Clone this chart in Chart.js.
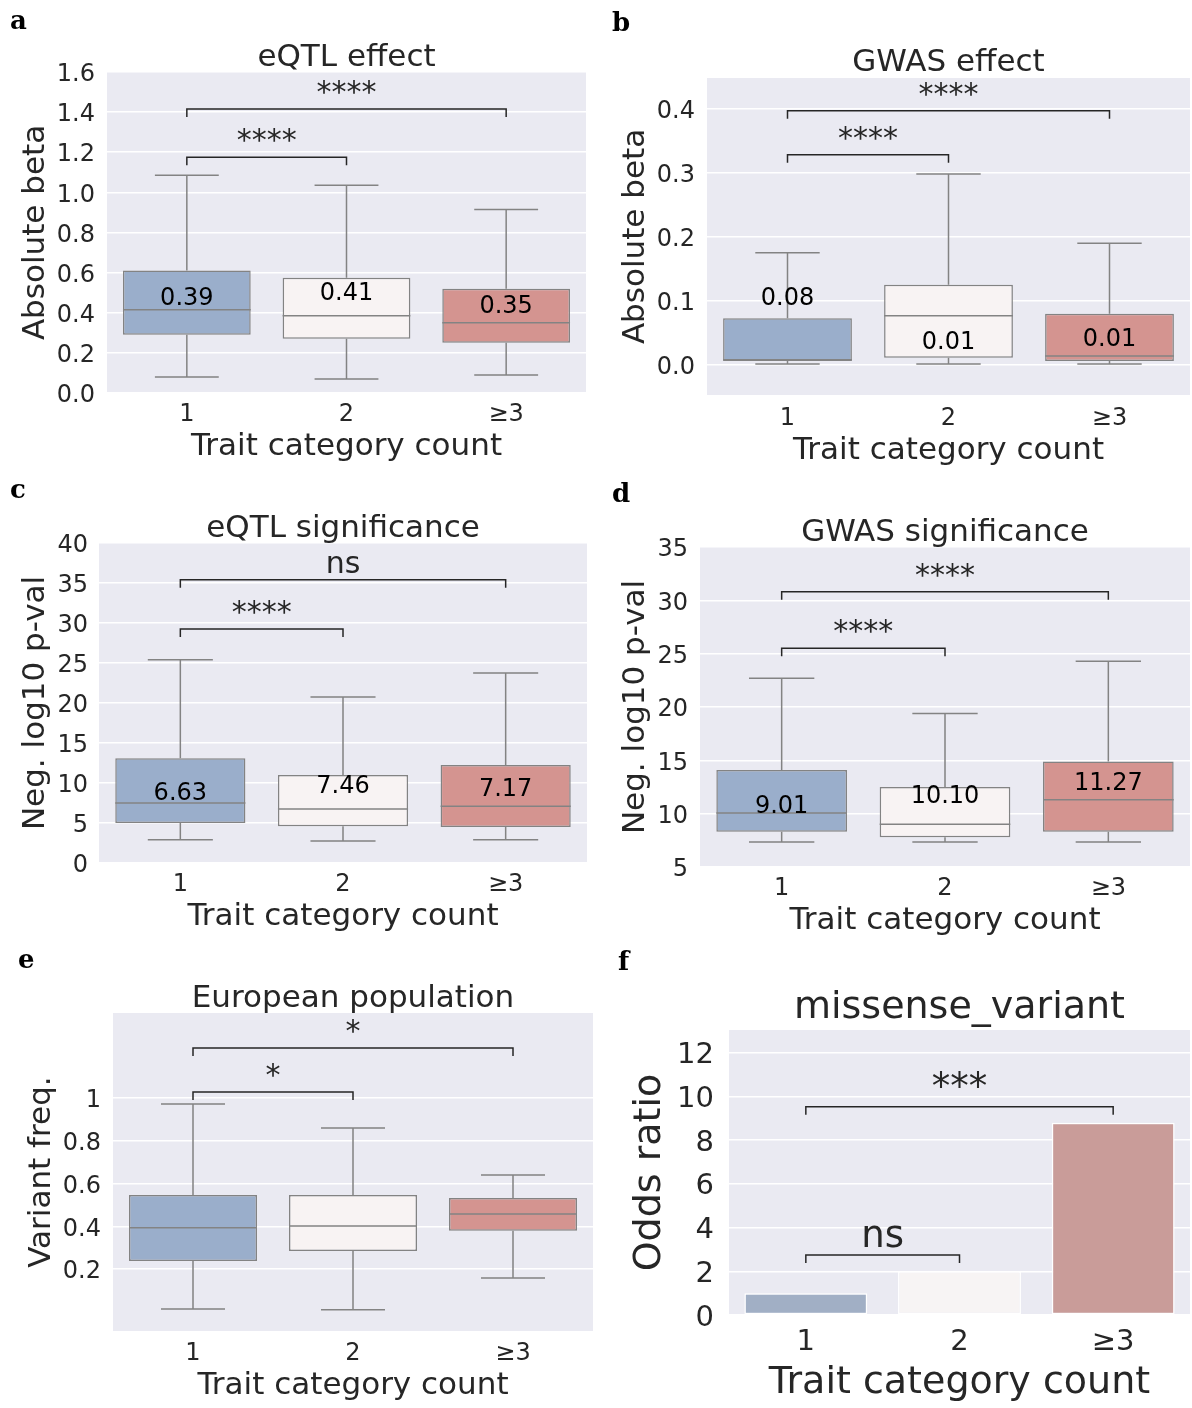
<!DOCTYPE html>
<html>
<head>
<meta charset="utf-8">
<script src="https://cdn.jsdelivr.net/npm/chart.js@4.4.1/dist/chart.umd.min.js"></script>
<style>
  body { margin: 0; background: #fff; }
  #fig { position: relative; width: 1192px; height: 1408px; }
  #fig canvas { position: absolute; }
</style>
</head>
<body>
<div id="fig">
  <canvas id="panelA"></canvas>
  <canvas id="panelB"></canvas>
  <canvas id="panelC"></canvas>
  <canvas id="panelD"></canvas>
  <canvas id="panelE"></canvas>
  <canvas id="panelF"></canvas>
</div>
<script>
const categories = ["1", "2", "≥3"];

// a - eQTL effect
const eqtlBetaLow = [0.08, 0.07, 0.09];
const eqtlBetaQ1 = [0.29, 0.27, 0.25];
const eqtlBetaMedian = [0.415, 0.385, 0.35];
const eqtlBetaQ3 = [0.61, 0.575, 0.52];
const eqtlBetaHigh = [1.085, 1.035, 0.915];
const eqtlBetaNotes = ["0.39", "0.41", "0.35"];
const eqtlBetaNoteAt = [0.485, 0.51, 0.445];
const eqtlBetaTicks = [0, 0.2, 0.4, 0.6, 0.8, 1.0, 1.2, 1.4, 1.6];
const eqtlBetaTickLabels = ["0.0", "0.2", "0.4", "0.6", "0.8", "1.0", "1.2", "1.4", "1.6"];
const eqtlBetaSigLevel = [1.175, 1.415];
const eqtlBetaSigText = ["****", "****"];

// b - GWAS effect
const gwasBetaLow = [0.0015, 0.0015, 0.0015];
const gwasBetaQ1 = [0.006, 0.011, 0.006];
const gwasBetaMedian = [0.008, 0.0766, 0.014];
const gwasBetaQ3 = [0.073, 0.125, 0.08];
const gwasBetaHigh = [0.175, 0.298, 0.19];
const gwasBetaNotes = ["0.08", "0.01", "0.01"];
const gwasBetaNoteAt = [0.108, 0.039, 0.044];
const gwasBetaTicks = [0, 0.1, 0.2, 0.3, 0.4];
const gwasBetaTickLabels = ["0.0", "0.1", "0.2", "0.3", "0.4"];
const gwasBetaSigLevel = [0.328, 0.397];
const gwasBetaSigText = ["****", "****"];

// c - eQTL significance
const eqtlPvalLow = [2.9, 2.75, 2.9];
const eqtlPvalQ1 = [5.0, 4.6, 4.5];
const eqtlPvalMedian = [7.5, 6.75, 7.1];
const eqtlPvalQ3 = [13.1, 11.0, 12.25];
const eqtlPvalHigh = [25.4, 20.75, 23.75];
const eqtlPvalNotes = ["6.63", "7.46", "7.17"];
const eqtlPvalNoteAt = [9.0, 9.9, 9.5];
const eqtlPvalTicks = [0, 5, 10, 15, 20, 25, 30, 35, 40];
const eqtlPvalTickLabels = ["0", "5", "10", "15", "20", "25", "30", "35", "40"];
const eqtlPvalSigLevel = [29.25, 35.4];
const eqtlPvalSigText = ["****", "ns"];

// d - GWAS significance
const gwasPvalLow = [7.35, 7.35, 7.35];
const gwasPvalQ1 = [8.3, 7.8, 8.3];
const gwasPvalMedian = [10.06, 9.0, 11.3];
const gwasPvalQ3 = [14.1, 12.5, 14.9];
const gwasPvalHigh = [22.7, 19.4, 24.3];
const gwasPvalNotes = ["9.01", "10.10", "11.27"];
const gwasPvalNoteAt = [10.9, 11.9, 13.1];
const gwasPvalTicks = [5, 10, 15, 20, 25, 30, 35];
const gwasPvalTickLabels = ["5", "10", "15", "20", "25", "30", "35"];
const gwasPvalSigLevel = [25.5, 30.8];
const gwasPvalSigText = ["****", "****"];

// e - European population
const eurFreqLow = [0.014, 0.01, 0.159];
const eurFreqQ1 = [0.238, 0.285, 0.379];
const eurFreqMedian = [0.393, 0.402, 0.458];
const eurFreqQ3 = [0.547, 0.547, 0.533];
const eurFreqHigh = [0.972, 0.86, 0.64];
const eurFreqTicks = [0.2, 0.4, 0.6, 0.8, 1];
const eurFreqTickLabels = ["0.2", "0.4", "0.6", "0.8", "1"];
const eurFreqSigLevel = [1.028, 1.234];
const eurFreqSigText = ["*", "*"];

// f - missense_variant
const missenseOdds = [1.0, 2.0, 8.8];
const missenseTicks = [0, 2, 4, 6, 8, 10, 12];
const missenseTickLabels = ["0", "2", "4", "6", "8", "10", "12"];
const missenseSigLevel = [2.75, 9.54];
const missenseSigText = ["ns", "***"];

const comparePairs = [[0, 1], [0, 2]];

const textColor = "#262626";
const boxFill = ["#9aaecb", "#f8f3f3", "#d49490"];
const barFill = ["#a1afc5", "#f7f4f4", "#c99c99"];
const edgeGray = "#838383";
const nudge = 3; // canvas "middle" baseline sits a little high vs matplotlib

Chart.defaults.font.family = "'DejaVu Sans', 'Noto Sans', sans-serif";
Chart.defaults.color = textColor;

function boxStats(low, q1, med, q3, high, notes, noteAt) {
  return { low, q1, med, q3, high, notes, noteAt };
}

function makeDecor(p) {
  return {
    id: "decor" + p.letter,
    beforeDraw(chart) {
      const { ctx, chartArea: a } = chart;
      ctx.save();
      ctx.fillStyle = "#eaeaf2";
      ctx.fillRect(a.left, a.top, a.width, a.height);
      ctx.fillStyle = "#000";
      ctx.font = "bold 26px 'DejaVu Serif', serif";
      ctx.textBaseline = "alphabetic";
      ctx.textAlign = "left";
      ctx.fillText(p.letter, p.letterAt[0] - p.rect[0], p.letterAt[1] - p.rect[1]);
      ctx.restore();
    },
    beforeDatasetsDraw(chart) {
      if (!p.box) return;
      const { ctx, scales: { x, y } } = chart;
      const b = p.box;
      const band = x.getPixelForValue(1) - x.getPixelForValue(0);
      const cap = band * 0.2;
      ctx.save();
      ctx.strokeStyle = edgeGray;
      ctx.lineWidth = 1.5;
      b.low.forEach((lo, i) => {
        const cx = x.getPixelForValue(i);
        const yLo = y.getPixelForValue(lo);
        const yHi = y.getPixelForValue(b.high[i]);
        ctx.beginPath();
        ctx.moveTo(cx, y.getPixelForValue(b.q3[i]));
        ctx.lineTo(cx, yHi);
        ctx.moveTo(cx - cap, yHi);
        ctx.lineTo(cx + cap, yHi);
        ctx.moveTo(cx, y.getPixelForValue(b.q1[i]));
        ctx.lineTo(cx, yLo);
        ctx.moveTo(cx - cap, yLo);
        ctx.lineTo(cx + cap, yLo);
        ctx.stroke();
      });
      ctx.restore();
    },
    afterDatasetsDraw(chart) {
      const { ctx, scales: { x, y } } = chart;
      const band = x.getPixelForValue(1) - x.getPixelForValue(0);
      ctx.save();
      if (p.box) {
        const b = p.box;
        ctx.strokeStyle = edgeGray;
        ctx.lineWidth = 1.5;
        b.med.forEach((m, i) => {
          const cx = x.getPixelForValue(i);
          const ym = y.getPixelForValue(m);
          ctx.beginPath();
          ctx.moveTo(cx - band * 0.4, ym);
          ctx.lineTo(cx + band * 0.4, ym);
          ctx.stroke();
        });
        if (b.notes) {
          ctx.fillStyle = "#000";
          ctx.font = "24px 'DejaVu Sans'";
          ctx.textAlign = "center";
          ctx.textBaseline = "middle";
          b.notes.forEach((t, i) => {
            ctx.fillText(t, x.getPixelForValue(i), y.getPixelForValue(b.noteAt[i]) + nudge);
          });
        }
      }
      // significance brackets
      ctx.strokeStyle = textColor;
      ctx.fillStyle = textColor;
      ctx.lineWidth = 1.5;
      ctx.font = p.sigSize + "px 'DejaVu Sans'";
      ctx.textAlign = "center";
      ctx.textBaseline = "alphabetic";
      comparePairs.forEach(([i, j], k) => {
        const x1 = x.getPixelForValue(i);
        const x2 = x.getPixelForValue(j);
        const yy = y.getPixelForValue(p.sigLevel[k]);
        ctx.beginPath();
        ctx.moveTo(x1, yy + 8);
        ctx.lineTo(x1, yy);
        ctx.lineTo(x2, yy);
        ctx.lineTo(x2, yy + 8);
        ctx.stroke();
        ctx.fillText(p.sigText[k], (x1 + x2) / 2, yy - p.sigGap);
      });
      ctx.restore();
    },
  };
}

function drawPanel(id, p) {
  const canvas = document.getElementById(id);
  const [rx, ry, rw, rh] = p.rect;
  canvas.width = rw;
  canvas.height = rh;
  canvas.style.left = rx + "px";
  canvas.style.top = ry + "px";

  const L = p.area[0] - rx, T = p.area[1] - ry;
  const R = p.area[2] - rx, B = p.area[3] - ry;
  const titleY = p.titleY - ry + nudge;
  const padLeft = p.yTitleX - rx - p.labelSize / 2;
  const xBottom = p.xTitleY - ry + nudge + p.labelSize / 2;

  const dataset = p.box
    ? {
        data: p.box.q1.map((v, i) => [v, p.box.q3[i]]),
        backgroundColor: boxFill,
        borderColor: edgeGray,
      }
    : { data: p.bars, backgroundColor: barFill, borderColor: "#ffffff" };

  new Chart(canvas, {
    type: "bar",
    data: {
      labels: categories,
      datasets: [
        Object.assign(dataset, {
          borderWidth: 1.5,
          borderSkipped: false,
          barPercentage: 0.8,
          categoryPercentage: 1,
        }),
      ],
    },
    options: {
      responsive: false,
      animation: false,
      devicePixelRatio: 1,
      events: [],
      layout: {
        autoPadding: false,
        padding: {
          left: padLeft,
          right: rw - R,
          top: titleY - p.titleSize / 2,
          bottom: rh - xBottom,
        },
      },
      plugins: {
        legend: { display: false },
        tooltip: { enabled: false },
        title: {
          display: true,
          text: p.title,
          fullSize: false,
          color: textColor,
          font: { size: p.titleSize, weight: "normal", lineHeight: 1 },
          padding: { top: 0, bottom: T - titleY - p.titleSize / 2 },
        },
      },
      scales: {
        x: {
          grid: { display: false },
          border: { display: false },
          ticks: {
            color: textColor,
            font: { size: p.tickSize, lineHeight: 1 },
            padding: p.xTickY - p.area[3] - p.tickSize / 2 - 2 * nudge,
          },
          title: {
            display: true,
            text: "Trait category count",
            color: textColor,
            font: { size: p.labelSize, lineHeight: 1 },
            padding: 0,
          },
          afterFit: (scale) => {
            scale.height = xBottom - B;
          },
        },
        y: {
          min: p.yMin,
          max: p.yMax,
          grid: { color: "#ffffff", lineWidth: 1.6, drawTicks: false },
          border: { display: false },
          afterBuildTicks: (scale) => {
            scale.ticks = p.ticks.map((v) => ({ value: v }));
          },
          ticks: {
            color: textColor,
            font: { size: p.tickSize },
            padding: p.yTickPad,
            labelOffset: nudge,
            callback: (value, index) => p.tickLabels[index],
          },
          title: {
            display: true,
            text: p.yTitle,
            color: textColor,
            font: { size: p.labelSize, lineHeight: 1 },
            padding: 0,
          },
          afterFit: (scale) => {
            scale.width = L - padLeft;
          },
        },
      },
    },
    plugins: [makeDecor(p)],
  });
}

const smallFonts = { titleSize: 31, labelSize: 31, tickSize: 24, sigSize: 30, sigGap: 7, yTickPad: 12 };

drawPanel("panelA", Object.assign({}, smallFonts, {
  letter: "a", letterAt: [10, 29],
  rect: [0, 0, 600, 470], area: [107, 72, 586, 393],
  title: "eQTL effect", titleY: 55, xTickY: 413, xTitleY: 444,
  yTitle: "Absolute beta", yTitleX: 36,
  yMin: 0, yMax: 1.6, ticks: eqtlBetaTicks, tickLabels: eqtlBetaTickLabels,
  box: boxStats(eqtlBetaLow, eqtlBetaQ1, eqtlBetaMedian, eqtlBetaQ3, eqtlBetaHigh, eqtlBetaNotes, eqtlBetaNoteAt),
  sigLevel: eqtlBetaSigLevel, sigText: eqtlBetaSigText,
}));

drawPanel("panelB", Object.assign({}, smallFonts, {
  letter: "b", letterAt: [612, 31],
  rect: [600, 0, 592, 470], area: [707, 78, 1190, 395],
  title: "GWAS effect", titleY: 60, xTickY: 417, xTitleY: 448,
  yTitle: "Absolute beta", yTitleX: 636,
  yMin: -0.047, yMax: 0.448, ticks: gwasBetaTicks, tickLabels: gwasBetaTickLabels,
  box: boxStats(gwasBetaLow, gwasBetaQ1, gwasBetaMedian, gwasBetaQ3, gwasBetaHigh, gwasBetaNotes, gwasBetaNoteAt),
  sigLevel: gwasBetaSigLevel, sigText: gwasBetaSigText,
}));

drawPanel("panelC", Object.assign({}, smallFonts, {
  letter: "c", letterAt: [10, 498],
  rect: [0, 470, 600, 470], area: [99, 543, 587, 863], yTickPad: 11,
  title: "eQTL significance", titleY: 526, xTickY: 883, xTitleY: 914,
  yTitle: "Neg. log10 p-val", yTitleX: 36,
  yMin: 0, yMax: 40, ticks: eqtlPvalTicks, tickLabels: eqtlPvalTickLabels,
  box: boxStats(eqtlPvalLow, eqtlPvalQ1, eqtlPvalMedian, eqtlPvalQ3, eqtlPvalHigh, eqtlPvalNotes, eqtlPvalNoteAt),
  sigLevel: eqtlPvalSigLevel, sigText: eqtlPvalSigText,
}));

drawPanel("panelD", Object.assign({}, smallFonts, {
  letter: "d", letterAt: [612, 502],
  rect: [600, 470, 592, 470], area: [700, 547, 1190, 867],
  title: "GWAS significance", titleY: 530, xTickY: 887, xTitleY: 918,
  yTitle: "Neg. log10 p-val", yTitleX: 636,
  yMin: 5, yMax: 35, ticks: gwasPvalTicks, tickLabels: gwasPvalTickLabels,
  box: boxStats(gwasPvalLow, gwasPvalQ1, gwasPvalMedian, gwasPvalQ3, gwasPvalHigh, gwasPvalNotes, gwasPvalNoteAt),
  sigLevel: gwasPvalSigLevel, sigText: gwasPvalSigText,
}));

drawPanel("panelE", Object.assign({}, smallFonts, {
  letter: "e", letterAt: [18, 968],
  rect: [0, 940, 600, 468], area: [113, 1013, 593, 1331],
  title: "European population", titleY: 996, xTickY: 1352, xTitleY: 1383,
  yTitle: "Variant freq.", yTitleX: 42,
  yMin: -0.089, yMax: 1.397, ticks: eurFreqTicks, tickLabels: eurFreqTickLabels,
  box: boxStats(eurFreqLow, eurFreqQ1, eurFreqMedian, eurFreqQ3, eurFreqHigh, null, null),
  sigLevel: eurFreqSigLevel, sigText: eurFreqSigText,
}));

drawPanel("panelF", {
  letter: "f", letterAt: [618, 970],
  titleSize: 38, labelSize: 38, tickSize: 29, sigSize: 37, sigGap: 8, yTickPad: 15,
  rect: [600, 940, 592, 468], area: [729, 1030, 1190, 1315],
  title: "missense_variant", titleY: 1005, xTickY: 1340, xTitleY: 1380,
  yTitle: "Odds ratio", yTitleX: 650,
  yMin: 0, yMax: 13.05, ticks: missenseTicks, tickLabels: missenseTickLabels,
  bars: missenseOdds,
  sigLevel: missenseSigLevel, sigText: missenseSigText,
});
</script>
</body>
</html>
